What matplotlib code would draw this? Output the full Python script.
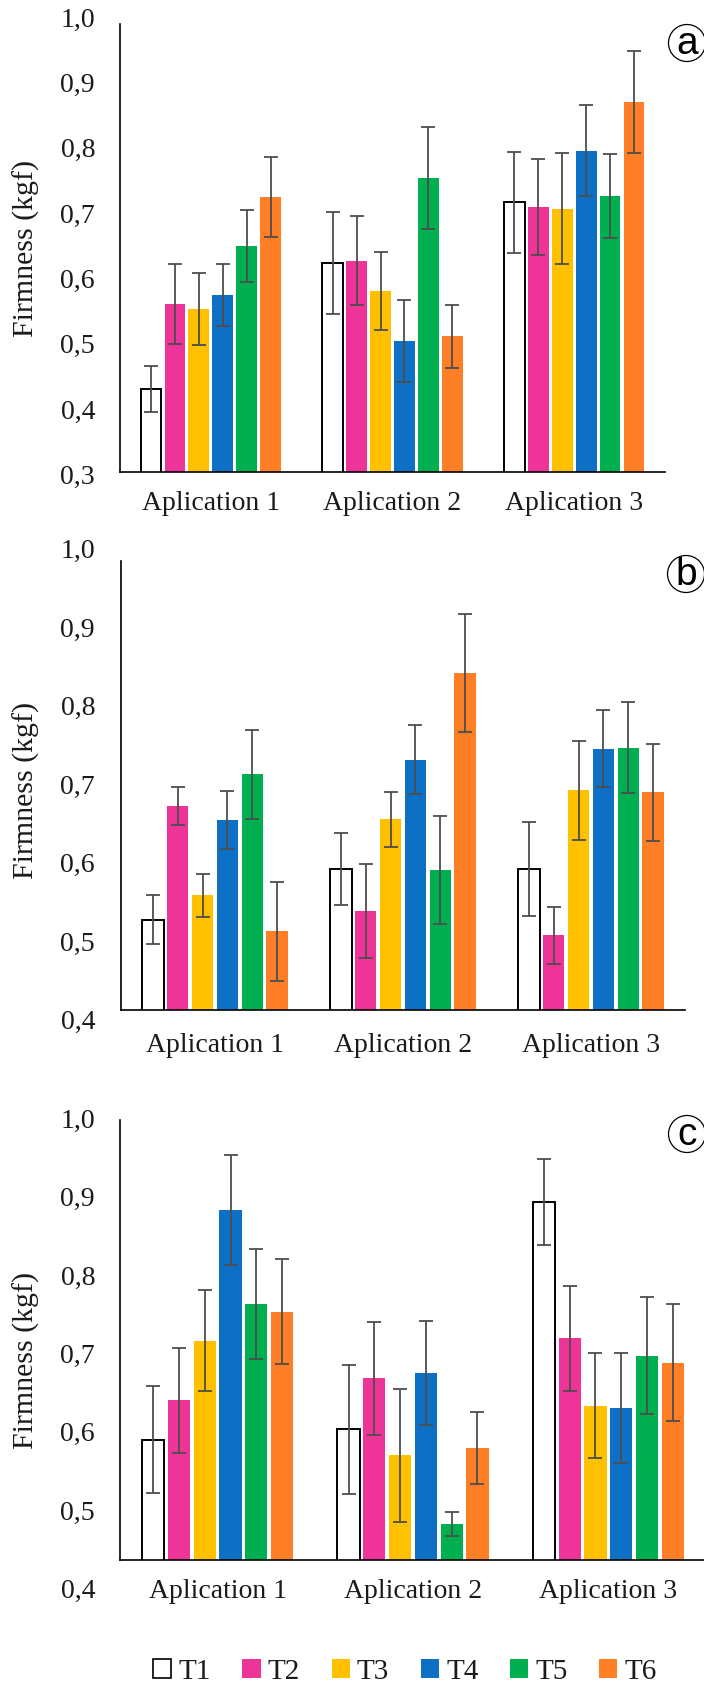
import matplotlib
matplotlib.use("Agg")
import matplotlib.pyplot as plt
import matplotlib.transforms as mtransforms
from matplotlib.patches import Patch, Ellipse
import numpy as np

plt.rcParams['font.family'] = ['Liberation Serif', 'DejaVu Serif']

applications = ['Aplication 1', 'Aplication 2', 'Aplication 3']
treatments = ['T1', 'T2', 'T3', 'T4', 'T5', 'T6']
colors = ['#FFFFFF', '#EE3399', '#FFC000', '#0E70C4', '#00B050', '#FF7F27']

# rows: T1..T6, columns: Aplication 1..3
a_mean = [[0.436, 0.628, 0.721],
          [0.566, 0.632, 0.714],
          [0.558, 0.585, 0.711],
          [0.579, 0.509, 0.800],
          [0.654, 0.759, 0.731],
          [0.729, 0.516, 0.875]]
a_err = [[0.035, 0.078, 0.077],
         [0.061, 0.068, 0.073],
         [0.055, 0.060, 0.085],
         [0.047, 0.063, 0.070],
         [0.055, 0.078, 0.064],
         [0.061, 0.048, 0.078]]

b_mean = [[0.531, 0.596, 0.596],
          [0.676, 0.542, 0.511],
          [0.562, 0.659, 0.696],
          [0.658, 0.735, 0.749],
          [0.716, 0.594, 0.750],
          [0.516, 0.845, 0.693]]
b_err = [[0.031, 0.046, 0.060],
         [0.024, 0.060, 0.036],
         [0.027, 0.035, 0.063],
         [0.037, 0.044, 0.049],
         [0.057, 0.069, 0.058],
         [0.063, 0.075, 0.062]]

c_mean = [[0.594, 0.607, 0.897],
          [0.644, 0.672, 0.723],
          [0.720, 0.574, 0.637],
          [0.887, 0.679, 0.634],
          [0.767, 0.486, 0.701],
          [0.757, 0.583, 0.692]]
c_err = [[0.068, 0.082, 0.055],
         [0.067, 0.072, 0.067],
         [0.064, 0.085, 0.067],
         [0.070, 0.066, 0.070],
         [0.070, 0.015, 0.075],
         [0.067, 0.046, 0.075]]

a_ticks = [0.3, 0.4, 0.5, 0.6, 0.7, 0.8, 0.9, 1.0]
bc_ticks = [0.4, 0.5, 0.6, 0.7, 0.8, 0.9, 1.0]

W, H = 704, 1686
fig = plt.figure(figsize=(W / 100, H / 100), dpi=100)


def px_axes(left, right, top, bottom):
    return fig.add_axes([left / W, 1 - bottom / H, (right - left) / W, (bottom - top) / H])


panels = [
    dict(box=(120, 665, 24, 471.7), ylim=(0.3089, 0.9939), ticks=a_ticks,
         mean=a_mean, err=a_err, letter='a', lpos=(687, 43), ylab_y=248, xlab_y=503),
    dict(box=(121, 685, 561, 1010), ylim=(0.4159, 0.9879), ticks=bc_ticks,
         mean=b_mean, err=b_err, letter='b', lpos=(686, 574), ylab_y=790, xlab_y=1045),
    dict(box=(120, 706, 1120, 1560), ylim=(0.4404, 1.0013), ticks=bc_ticks,
         mean=c_mean, err=c_err, letter='c', lpos=(687, 1134), ylab_y=1360, xlab_y=1592),
]

slot = 0.132
bw = 0.114
x = np.arange(len(applications))
text_col = '#1a1a1a'

for p in panels:
    ax = px_axes(*p['box'])
    for i, t in enumerate(treatments):
        off = (i - 2.5) * slot
        ec = 'black' if i == 0 else colors[i]
        lw = 1.4 if i == 0 else 0
        ax.bar(x + off, p['mean'][i], width=bw, color=colors[i], edgecolor=ec,
               linewidth=lw, zorder=2)
        ax.errorbar(x + off, p['mean'][i], yerr=p['err'][i], fmt='none',
                    ecolor='#4d4d4d', elinewidth=1.3, capsize=4.8, capthick=1.3, zorder=3)
    ax.set_xlim(-0.5, 2.5)
    ax.set_ylim(*p['ylim'])
    for s in ['top', 'right']:
        ax.spines[s].set_visible(False)
    for s in ['left', 'bottom']:
        ax.spines[s].set_linewidth(1.2)
        ax.spines[s].set_color('black')
    ax.set_xticks([])
    ax.set_yticks([])
    # y tick labels (drawn at their data values)
    tr = mtransforms.blended_transform_factory(fig.transFigure, ax.transData)
    for v in p['ticks']:
        ax.text(95 / W, v, ('%.1f' % v).replace('.', ','), transform=tr,
                ha='right', va='center', fontsize=20, color=text_col, clip_on=False)
    # x category labels
    trx = mtransforms.blended_transform_factory(ax.transData, fig.transFigure)
    for xi, lab in zip(x, applications):
        ax.text(xi, 1 - p['xlab_y'] / H, lab, transform=trx, ha='center', va='center',
                fontsize=20, color=text_col, clip_on=False)
    fig.text(26 / W, 1 - p['ylab_y'] / H, 'Firmness (kgf)', rotation=90,
             ha='center', va='center', fontsize=21.5, color=text_col)
    # circled panel letter
    cx, cy = p['lpos']
    fig.patches.append(Ellipse((cx / W, 1 - cy / H), 37 / W, 37 / H,
                               transform=fig.transFigure, fc='white', ec='black',
                               lw=0.9, zorder=5))
    fig.text(cx / W, 1 - (cy + 1) / H, p['letter'], ha='center', va='center',
             fontsize=28, family='Liberation Sans', color='black', zorder=6)

handles = [Patch(facecolor=colors[i], edgecolor='black' if i == 0 else colors[i],
                 linewidth=1.2 if i == 0 else 0) for i in range(6)]
fig.legend(handles, treatments, loc='center', bbox_to_anchor=(405 / W, 1 - 1672 / H),
           ncol=6, frameon=False, fontsize=21, handlelength=0.62, handleheight=0.62,
           handletextpad=0.25, columnspacing=1.08, labelcolor=text_col)

fig.savefig('out.png', dpi=100)
